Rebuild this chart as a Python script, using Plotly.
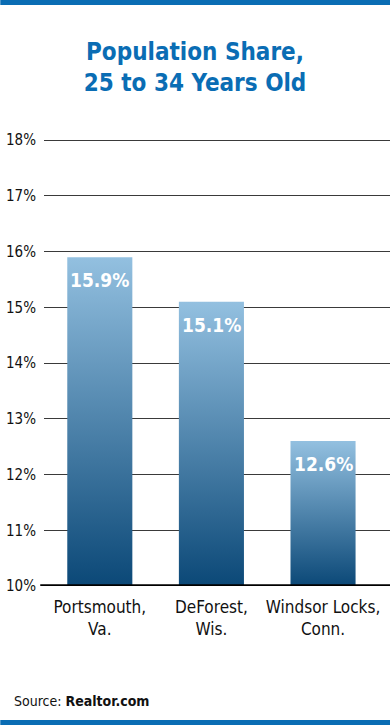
import plotly.graph_objects as go

categories = ["Portsmouth,<br>Va.", "DeForest,<br>Wis.", "Windsor Locks,<br>Conn."]
values = [15.9, 15.1, 12.6]
value_labels = ["15.9%", "15.1%", "12.6%"]
y_ticks = [10, 11, 12, 13, 14, 15, 16, 17, 18]
y_tick_labels = ["10%", "11%", "12%", "13%", "14%", "15%", "16%", "17%", "18%"]

W, H = 390, 725
L, R, T, B = 43.75, 0, 139, 139
BASE = 10
TOP = 18.02
BAR_W = 0.583
FONT = "DejaVu Sans Condensed, Roboto, sans-serif"
BLUE = "#0a6db4"

plot_h = H - T - B
plot_w = W - L - R


def py(p):
    return (H - B - p) / plot_h


def px(p):
    return (p - L) / plot_w


fig = go.Figure()
for i, v in enumerate(values):
    fig.add_trace(go.Scatter(
        x=[i - BAR_W / 2, i + BAR_W / 2, i + BAR_W / 2, i - BAR_W / 2, i - BAR_W / 2],
        y=[BASE, BASE, v, v, BASE],
        mode="lines", line=dict(width=0), fill="toself",
        fillgradient=dict(type="vertical", start=BASE, stop=v,
                          colorscale=[[0, "#0b4877"], [1, "#93c0e0"]]),
        hoverinfo="skip", showlegend=False,
    ))
    fig.add_annotation(x=i, y=v, text=value_labels[i], showarrow=False,
                       yanchor="top", yshift=-10,
                       font=dict(family=FONT, size=19, color="white", weight="bold"))

fig.update_layout(
    width=W, height=H, margin=dict(l=L, r=R, t=T, b=B),
    paper_bgcolor="white", plot_bgcolor="white",
    title=dict(text="<b>Population Share,<br>25 to 34 Years Old</b>",
               x=0.5, xref="container", xanchor="center",
               y=1 - 60 / H, yref="container", yanchor="middle",
               font=dict(family=FONT, size=24, color=BLUE)),
    xaxis=dict(range=[-0.5, 2.6], tickvals=[0, 1, 2], ticktext=categories,
               showgrid=False, zeroline=False, showline=False, ticks="",
               ticklabelstandoff=9,
               tickfont=dict(family=FONT, size=17, color="#111")),
    yaxis=dict(range=[BASE, TOP], tickvals=y_ticks, ticktext=y_tick_labels,
               showgrid=True, gridcolor="#3a3a3a", gridwidth=1.2,
               zeroline=False, showline=False,
               ticks="outside", ticklen=4, tickcolor="rgba(0,0,0,0)",
               tickfont=dict(family=FONT, size=15, color="#111")),
    showlegend=False,
)

# baseline axis line
fig.add_shape(type="line", xref="paper", yref="y", x0=px(40), x1=1, y0=BASE, y1=BASE,
              line=dict(color="black", width=3.5), layer="above")
# top and bottom blue bands
fig.add_shape(type="rect", xref="paper", yref="paper", x0=px(0), x1=px(W),
              y0=py(5), y1=py(0), fillcolor=BLUE, line=dict(width=0))
fig.add_shape(type="rect", xref="paper", yref="paper", x0=px(0), x1=px(W),
              y0=py(H), y1=py(720), fillcolor=BLUE, line=dict(width=0))

fig.add_annotation(xref="paper", yref="paper", x=px(12), y=py(701),
                   xanchor="left", yanchor="middle", showarrow=False,
                   text="Source: <b>Realtor.com</b>",
                   font=dict(family=FONT, size=14, color="#111"))

fig.write_html("out.html")
